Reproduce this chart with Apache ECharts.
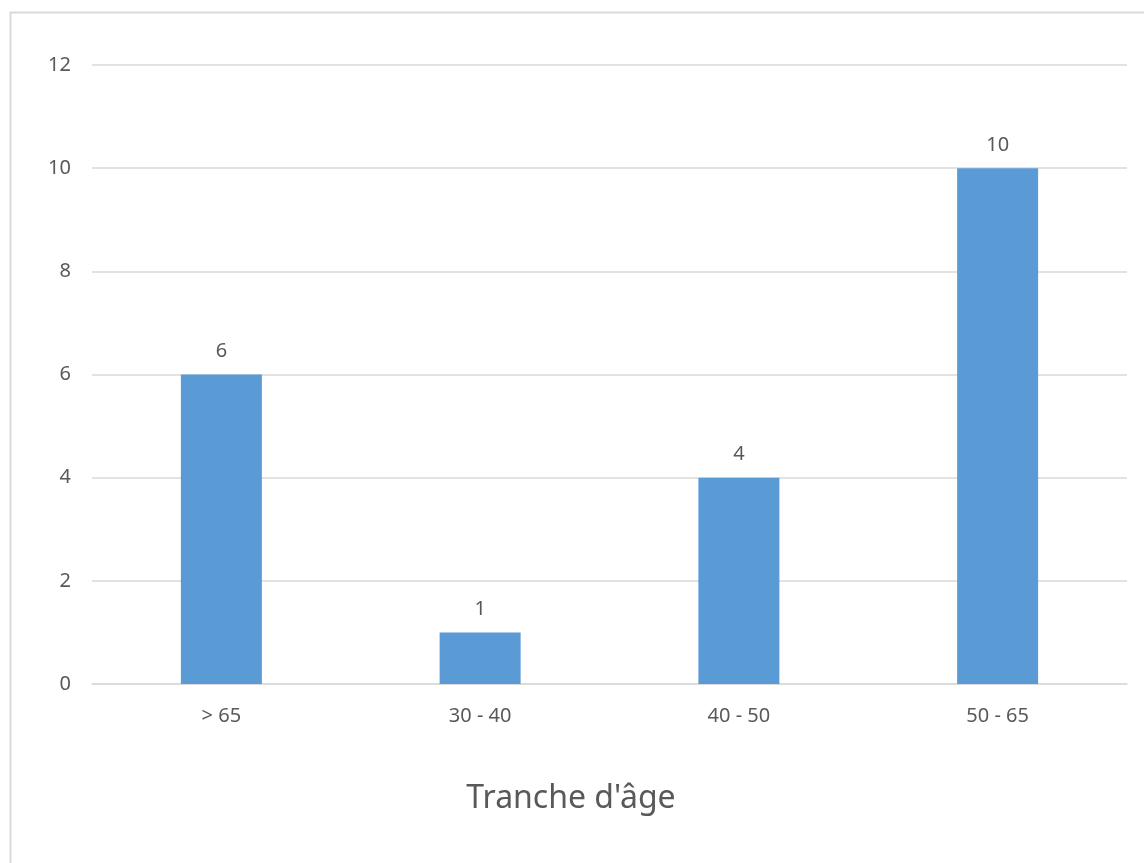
<!DOCTYPE html>
<html>
<head>
<meta charset="utf-8">
<script src="https://cdn.jsdelivr.net/npm/echarts@6/dist/echarts.min.js"></script>
<style>
  html, body { margin: 0; padding: 0; background: #ffffff; }
  #chart { width: 1144px; height: 863px; }
</style>
</head>
<body>
<div id="chart"></div>
<script>
// Age brackets and head counts
const categories = ['> 65', '30 - 40', '40 - 50', '50 - 65'];
const counts = [6, 1, 4, 10];
const yTicks = { min: 0, max: 12, interval: 2 };
const axisTitle = "Tranche d'âge";

const textColor = '#595959';
const gridColor = '#d9d9d9';
const barColor = '#5b9bd5';
const font = '"Noto Sans", "Open Sans", sans-serif';

const chart = echarts.init(document.getElementById('chart'), null, { renderer: 'canvas' });

chart.setOption({
  backgroundColor: '#ffffff',
  animation: false,
  textStyle: { fontFamily: font },
  graphic: [{
    type: 'rect',
    shape: { x: 10.5, y: 12.5, width: 1160, height: 900 },
    style: { fill: 'none', stroke: '#d9d9d9', lineWidth: 2 },
    silent: true
  }],
  // axis title sits under the category labels
  title: {
    text: axisTitle,
    left: 566,
    top: 778,
    textAlign: 'center',
    textStyle: { fontSize: 32, fontWeight: 'normal', color: textColor, fontFamily: font }
  },
  grid: { left: 92, right: 17, top: 65, bottom: 179, containLabel: false },
  xAxis: {
    type: 'category',
    data: categories,
    axisLine: { show: true, lineStyle: { color: gridColor, width: 1.5 } },
    axisTick: { show: false },
    axisLabel: { color: textColor, fontSize: 20, margin: 22, fontFamily: font }
  },
  yAxis: {
    type: 'value',
    min: yTicks.min,
    max: yTicks.max,
    interval: yTicks.interval,
    axisLine: { show: false },
    axisTick: { show: false },
    axisLabel: { color: textColor, fontSize: 20, margin: 21, fontFamily: font },
    splitLine: { lineStyle: { color: gridColor, width: 1.5 } }
  },
  series: [{
    type: 'bar',
    data: counts,
    barWidth: 81,
    itemStyle: { color: barColor },
    label: {
      show: true,
      position: 'top',
      distance: 13,
      color: textColor,
      fontSize: 20,
      fontFamily: font
    }
  }]
});
</script>
</body>
</html>
